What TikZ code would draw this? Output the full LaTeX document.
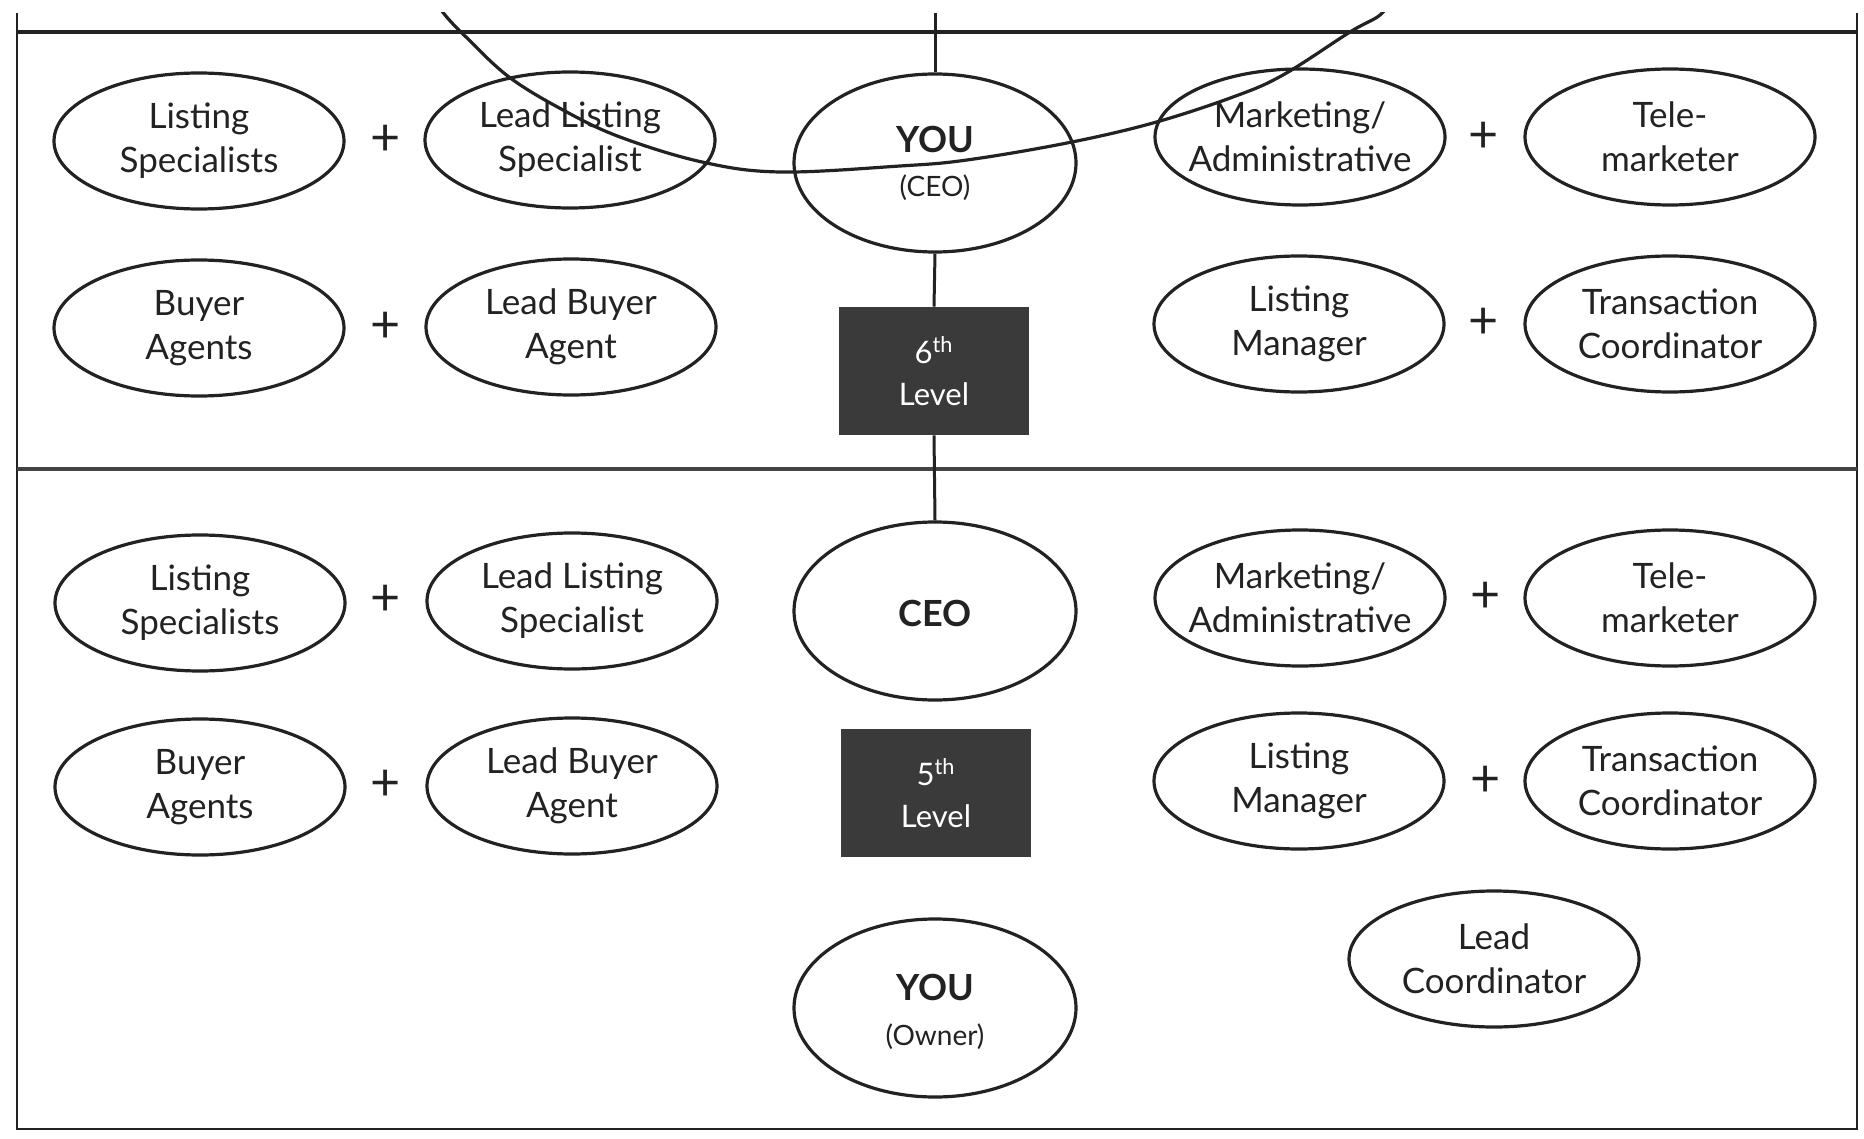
\documentclass[tikz,border=0pt]{standalone}
\usepackage{fontspec}
\setmainfont{Lato}
\usetikzlibrary{shapes.geometric}
\definecolor{ink}{HTML}{222222}
\definecolor{boxgray}{HTML}{3A3A3A}
\newcommand\rolenode[4][role]{%
  \node[#1] (#2) at (#3) {};
  \node[roletext] (#2-t) at (#2) {#4};}
\begin{document}
\begin{tikzpicture}[x=0.5pt,y=-0.5pt,
  role/.style={ellipse,draw=ink,line width=1.6pt,minimum width=145pt,minimum height=68pt,inner sep=0pt},
  bigrole/.style={role,minimum width=141pt,minimum height=89pt},
  roletext/.style={inner sep=0pt,align=center,text=ink,font=\fontsize{17.5}{22}\selectfont},
  lvlbox/.style={fill=boxgray,draw=none,minimum width=95pt,minimum height=64pt,inner sep=0pt,align=center,text=white,font=\fontsize{15.5}{21}\selectfont},
  plus/.style={inner sep=0pt,text=ink,font=\fontsize{26}{26}\selectfont},
  frame/.style={draw=ink,line width=1.3pt},
  conn/.style={draw=ink,line width=1.5pt}]
\useasboundingbox[fill=white] (0,0) rectangle (1864,1139);
% frame and separators
\draw[frame] (17,13) -- (17,1129) -- (1857,1129) -- (1857,13);
\draw[draw=ink,line width=2.4pt] (17,32) -- (1857,32);
\draw[draw=ink!85,line width=1.6pt] (17,469) -- (1857,469);
% top section
\rolenode{ls1}{199,141}{Listing\\Specialists}
\rolenode{lls1}{570,140}{Lead Listing\\Specialist}
\node[bigrole] (you) at (935,163) {};
\node[inner sep=0pt,text=ink,font=\fontsize{18}{18}\selectfont\bfseries] (you-t) at (935,139) {YOU};
\node[inner sep=0pt,text=ink,font=\fontsize{14}{14}\selectfont] (you-s) at (935,188) {(CEO)};
\rolenode{ma1}{1300,137}{Marketing/\\Administrative}
\rolenode{tm1}{1670,137}{Tele-\\marketer}
\rolenode{ba1}{199,328}{Buyer\\Agents}
\rolenode{lba1}{571,327}{Lead Buyer\\Agent}
\node[lvlbox] (lvl6) at (934,371) {6\textsuperscript{th}\\Level};
\rolenode{lm1}{1299,324}{Listing\\Manager}
\rolenode{tc1}{1670,324}{Transaction\\Coordinator}
\node[plus] (p1) at (386,140) {+};
\node[plus] (p2) at (1484,137) {+};
\node[plus] (p3) at (386,327) {+};
\node[plus] (p4) at (1484,323) {+};
% lower section
\rolenode{ls2}{200,603}{Listing\\Specialists}
\rolenode{lls2}{572,601}{Lead Listing\\Specialist}
\node[bigrole] (ceo) at (935,611) {};
\node[inner sep=0pt,text=ink,font=\fontsize{18}{18}\selectfont\bfseries] (ceo-t) at (935,613) {CEO};
\rolenode{ma2}{1300,598}{Marketing/\\Administrative}
\rolenode{tm2}{1670,598}{Tele-\\marketer}
\rolenode{ba2}{200,787}{Buyer\\Agents}
\rolenode{lba2}{572,786}{Lead Buyer\\Agent}
\node[lvlbox] (lvl5) at (936,793) {5\textsuperscript{th}\\Level};
\rolenode{lm2}{1299,781}{Listing\\Manager}
\rolenode{tc2}{1670,781}{Transaction\\Coordinator}
\node[plus] (p5) at (386,600) {+};
\node[plus] (p6) at (1486,597) {+};
\node[plus] (p7) at (386,785) {+};
\node[plus] (p8) at (1486,781) {+};
\rolenode{lc}{1494,959}{Lead\\Coordinator}
\node[bigrole] (owner) at (935,1008) {};
\node[inner sep=0pt,text=ink,font=\fontsize{18}{18}\selectfont\bfseries] (owner-t) at (935,987) {YOU};
\node[inner sep=0pt,text=ink,font=\fontsize{14}{14}\selectfont] (owner-s) at (935,1037) {(Owner)};
% connectors
\coordinate (topend) at (935,13);
\draw[conn] (topend) -- (you.north);
\draw[conn] (you.south) -- (lvl6.north);
\draw[conn] (lvl6.south) -- (ceo.north);
% large curve
\begin{scope}
\clip (0,13) rectangle (1864,1139);
\draw[draw=ink,line width=1.6pt] plot[smooth,tension=0.6] coordinates {(432,-4) (445,15) (466,37) (509,77) (563,110) (620,137) (702,162) (780,172) (900,166) (967,160) (1067,143) (1153,123) (1233,97) (1283,75) (1350,32) (1380,15) (1394,-4)};
\end{scope}
\end{tikzpicture}
\end{document}
